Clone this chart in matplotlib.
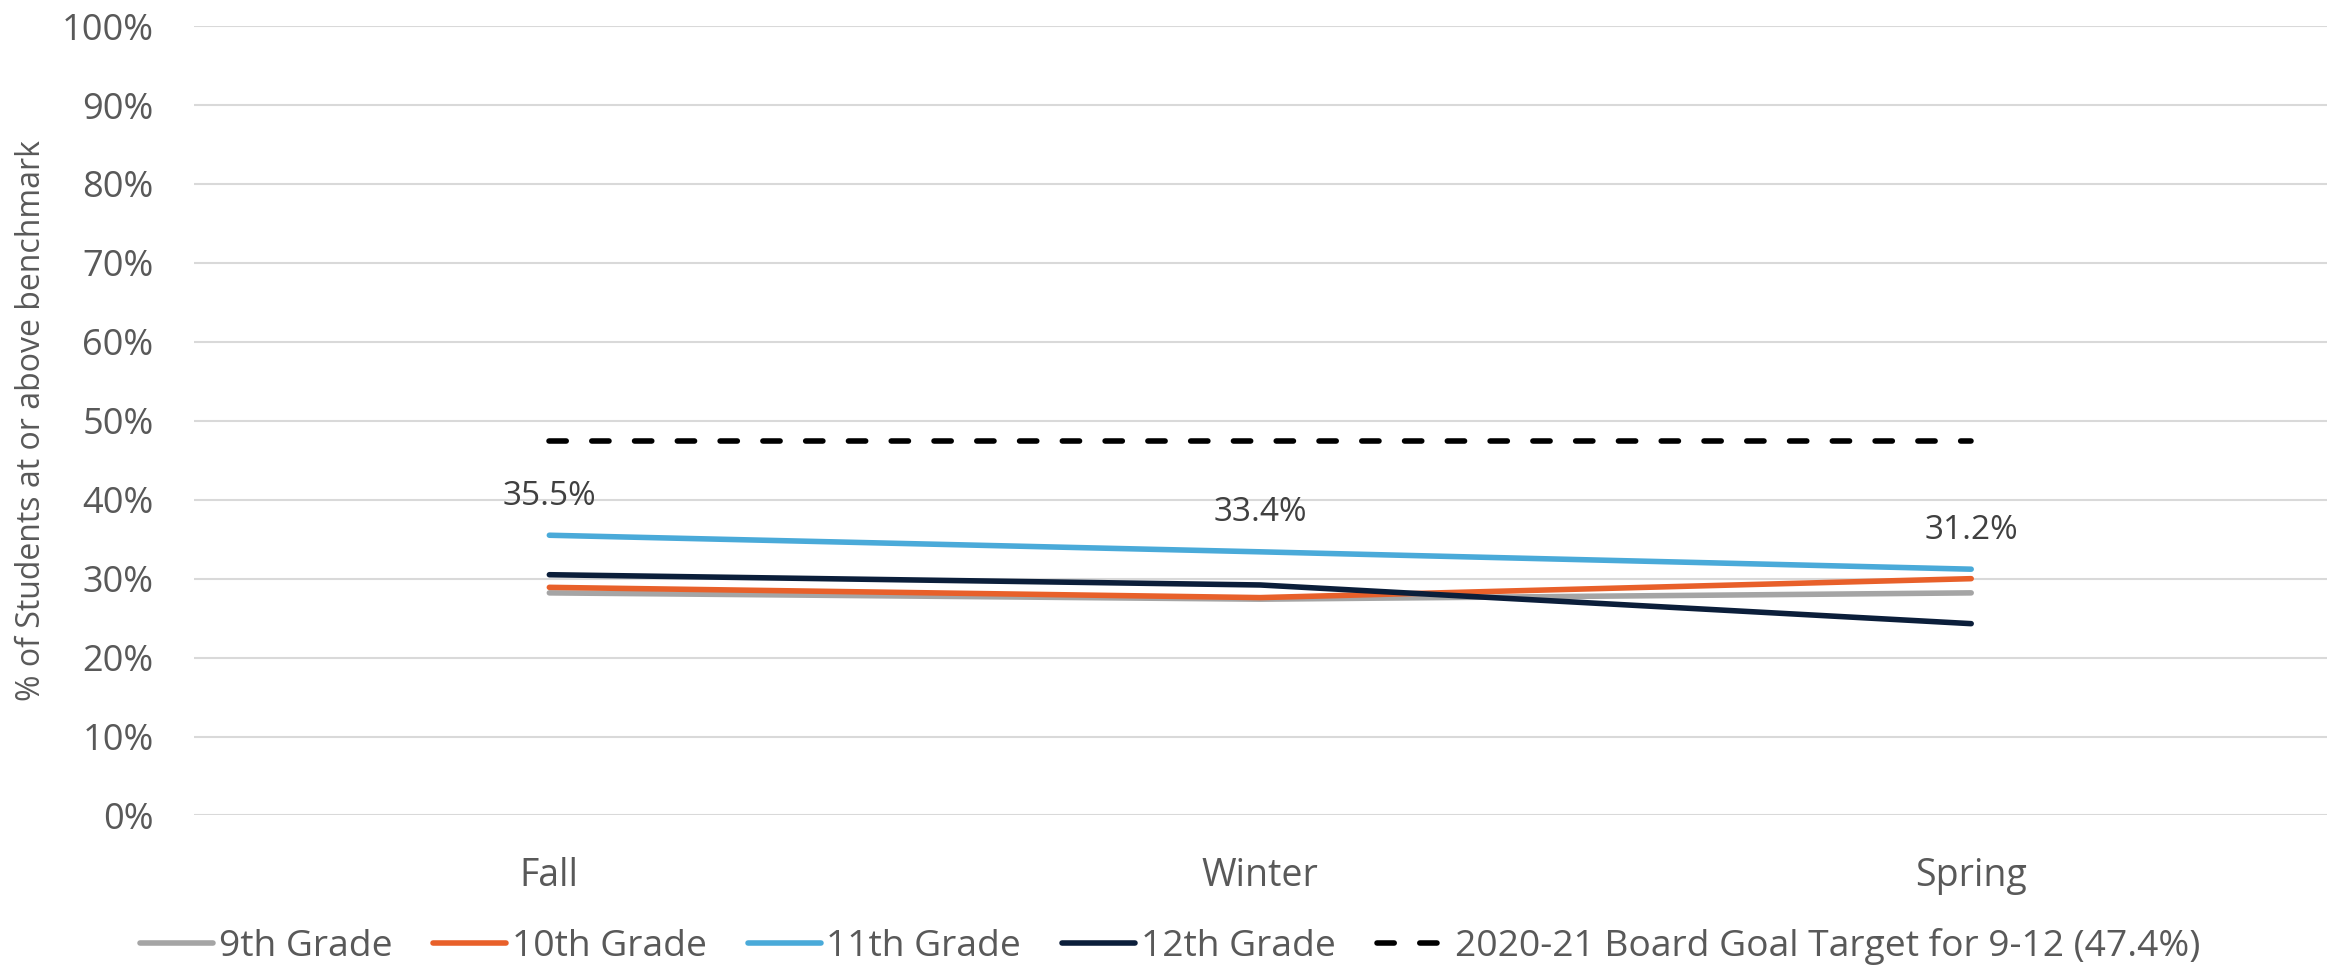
import matplotlib.pyplot as plt
from matplotlib.ticker import MultipleLocator, FuncFormatter

plt.rcParams['font.family'] = ['Open Sans', 'DejaVu Sans']

# data
terms = ['Fall', 'Winter', 'Spring']
grade_9 = [28.2, 27.4, 28.2]
grade_10 = [28.9, 27.6, 30.0]
grade_11 = [35.5, 33.4, 31.2]
grade_12 = [30.5, 29.2, 24.3]
goal = [47.4, 47.4, 47.4]

series = [
    ('9th Grade', grade_9, '#A5A5A5'),
    ('10th Grade', grade_10, '#E8602A'),
    ('11th Grade', grade_11, '#4AAAD9'),
    ('12th Grade', grade_12, '#0B1E3A'),
]

fig = plt.figure(figsize=(23.36, 9.67), dpi=100)
ax = fig.add_axes([0.083, 0.1567, 0.913, 0.8163])

x = list(range(len(terms)))
for name, vals, col in series:
    ax.plot(x, vals, color=col, lw=4, solid_capstyle='round', label=name, zorder=3)

ax.plot(x, goal, color='black', lw=4, linestyle=(0, (3.1, 4.6)), dash_capstyle='round',
        label='2020-21 Board Goal Target for 9-12 (47.4%)', zorder=3)

# labels on the 11th grade line
for xi, v in zip(x, grade_11):
    ax.annotate(f'{v:.1f}%', (xi, v), xytext=(0, 28), textcoords='offset points',
                ha='center', va='center', fontsize=24, color='#404040')

ax.set_xlim(-0.5, 2.5)
ax.set_ylim(0, 100)
ax.yaxis.set_major_locator(MultipleLocator(10))
ax.yaxis.set_major_formatter(FuncFormatter(lambda v, p: f'{v:.0f}%'))
ax.set_xticks(x)
ax.set_xticklabels(terms)
ax.grid(axis='y', color='#D9D9D9', lw=1.5, zorder=0)
ax.set_axisbelow(True)
for s in ax.spines.values():
    s.set_visible(False)
ax.tick_params(axis='both', length=0, labelsize=26, labelcolor='#595959')
ax.tick_params(axis='x', labelsize=27, pad=30)
ax.tick_params(axis='y', pad=29)
ax.set_ylabel('% of Students at or above benchmark', fontsize=23, color='#595959', labelpad=10)

fig.legend(loc='lower center', bbox_to_anchor=(0.501, -0.033), ncol=5, frameon=False,
           fontsize=26.8, labelcolor='#595959', handlelength=1.96, handletextpad=0.15,
           columnspacing=1.1)

fig.savefig('out.png', dpi=100)
